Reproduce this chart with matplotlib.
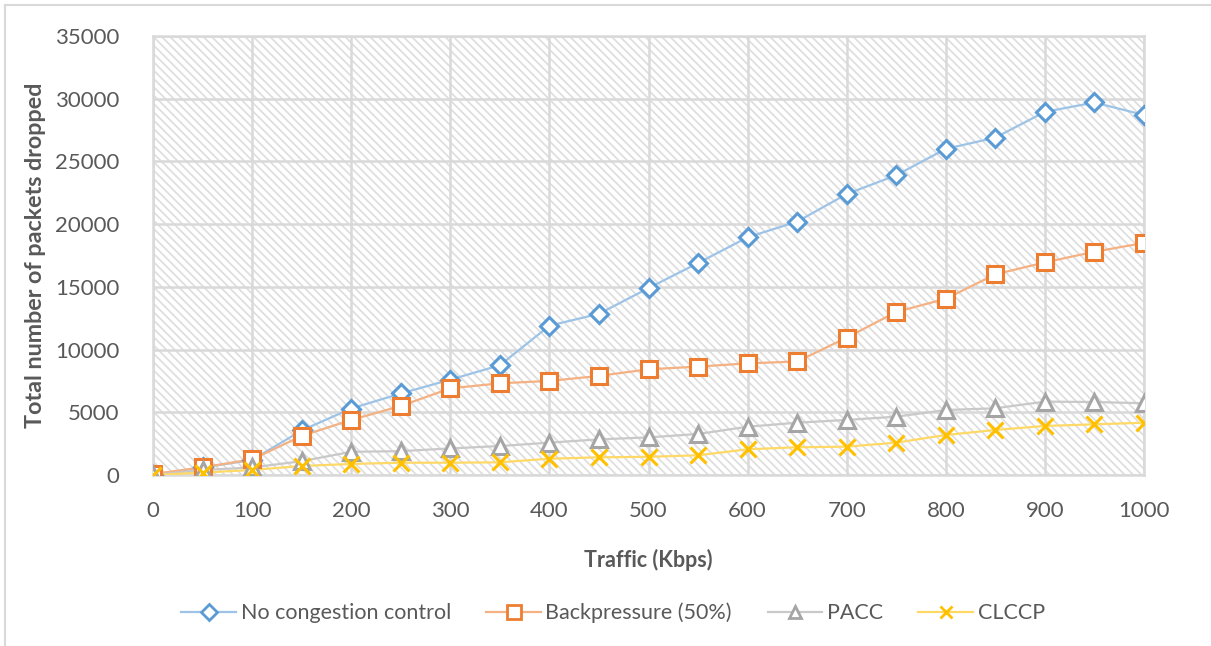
import matplotlib
matplotlib.use("Agg")
import matplotlib.pyplot as plt
from matplotlib.lines import Line2D

plt.rcParams['font.family'] = ['Lato', 'DejaVu Sans']
plt.rcParams['hatch.linewidth'] = 1.25
plt.rcParams['hatch.color'] = '#dedede'

# Traffic load (Kbps) and packets dropped for each scheme
traffic = [0, 50, 100, 150, 200, 250, 300, 350, 400, 450, 500,
           550, 600, 650, 700, 750, 800, 850, 900, 950, 1000]
no_cc = [0, 600, 1200, 3550, 5300, 6500, 7600, 8750, 11900, 12850, 14900,
         16900, 18950, 20200, 22400, 23900, 26000, 26900, 28950, 29700, 28700]
backpressure = [80, 610, 1250, 3110, 4390, 5500, 6910, 7310, 7500, 7900, 8430,
                8640, 8900, 9050, 10950, 13000, 14050, 16000, 16950, 17800, 18500]
pacc = [0, 400, 600, 1100, 1850, 1900, 2120, 2310, 2580, 2840, 3000,
        3270, 3850, 4170, 4390, 4650, 5180, 5320, 5850, 5820, 5720]
clccp = [0, 190, 400, 720, 880, 980, 980, 1010, 1300, 1410, 1450,
         1570, 2050, 2210, 2260, 2580, 3190, 3590, 3910, 4040, 4170]

series = [
    ("No congestion control", no_cc, '#9dc3e6', '#5b9bd5', 'D', 9.5),
    ("Backpressure (50%)", backpressure, '#f4b183', '#ed7d31', 's', 12),
    ("PACC", pacc, '#c9c9c9', '#a5a5a5', '^', 11),
    ("CLCCP", clccp, '#ffd966', '#ffc000', 'x', 11),
]

fig = plt.figure(figsize=(12.11, 6.46), dpi=100)
ax = fig.add_axes([153 / 1211, 1 - 475 / 646, (1144 - 153) / 1211, (475 - 36) / 646])

# hatched plot background
ax.patch.set_facecolor('white')
ax.patch.set_hatch('\\\\\\\\')
ax.patch.set_edgecolor('#dedede')

handles = []
for name, vals, lc, mc, mk, ms in series:
    face = 'none' if mk == 'x' else 'white'
    ax.plot(traffic, vals, color=lc, lw=1.6, zorder=3)
    ax.plot(traffic, vals, ls='none', marker=mk, ms=ms, mfc=face, mec=mc,
            mew=2.2, zorder=4)
    handles.append(Line2D([0], [0], color=lc, lw=1.6, marker=mk, ms=ms * 0.85,
                          mfc=face, mec=mc, mew=2.0))

ax.set_xlim(0, 1000)
ax.set_ylim(0, 35000)
ax.set_xticks(range(0, 1001, 100))
ax.set_yticks(range(0, 35001, 5000))
ax.grid(True, color='#d9d9d9', lw=1.8, zorder=1)
ax.set_axisbelow(True)
for sp in ax.spines.values():
    sp.set_color('#d9d9d9')
    sp.set_linewidth(1.8)
ax.tick_params(length=0, labelsize=16, labelcolor='#595959')
ax.tick_params(axis='x', pad=19)
ax.tick_params(axis='y', pad=24)

ax.set_xlabel("Traffic (Kbps)", fontsize=15.5, fontweight='bold', color='#595959', labelpad=20)
ax.set_ylabel("Total number of packets dropped", fontsize=16.8, fontweight='bold',
              color='#595959', labelpad=7)

fig.legend(handles=handles, labels=[s[0] for s in series],
           loc='center', bbox_to_anchor=(613 / 1211, 1 - 613 / 646), ncol=4,
           frameon=False, fontsize=15.5, handlelength=2.55, columnspacing=1.65,
           handletextpad=0.2, labelcolor='#595959')

# chart area border
fig.add_artist(Line2D([5 / 1211, 1], [1 - 5 / 646, 1 - 5 / 646], color='#d9d9d9', lw=1.5))
fig.add_artist(Line2D([5 / 1211, 5 / 1211], [0, 1 - 5 / 646], color='#d9d9d9', lw=1.5))

fig.savefig("out.png", dpi=100)
